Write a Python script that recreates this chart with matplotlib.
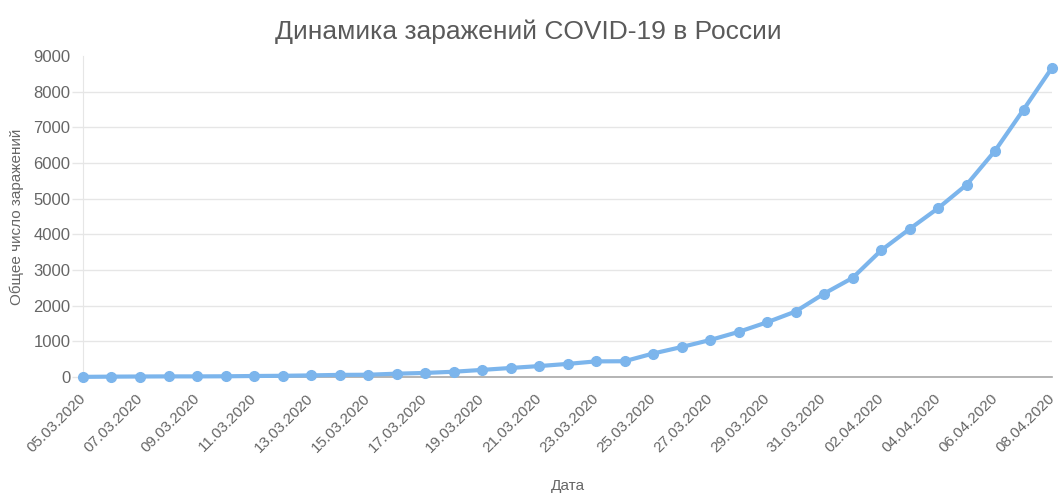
import matplotlib
matplotlib.use("Agg")
import matplotlib.pyplot as plt

plt.rcParams["font.family"] = ["Liberation Sans", "DejaVu Sans"]

# cumulative COVID-19 cases in Russia, 05.03.2020 .. 08.04.2020
dates = [
    "05.03.2020", "06.03.2020", "07.03.2020", "08.03.2020", "09.03.2020",
    "10.03.2020", "11.03.2020", "12.03.2020", "13.03.2020", "14.03.2020",
    "15.03.2020", "16.03.2020", "17.03.2020", "18.03.2020", "19.03.2020",
    "20.03.2020", "21.03.2020", "22.03.2020", "23.03.2020", "24.03.2020",
    "25.03.2020", "26.03.2020", "27.03.2020", "28.03.2020", "29.03.2020",
    "30.03.2020", "31.03.2020", "01.04.2020", "02.04.2020", "03.04.2020",
    "04.04.2020", "05.04.2020", "06.04.2020", "07.04.2020", "08.04.2020",
]
cases = [
    4, 10, 14, 17, 17, 20, 28, 34, 45, 59,
    63, 93, 114, 147, 199, 253, 306, 367, 438, 442,
    658, 840, 1036, 1264, 1534, 1836, 2337, 2777, 3548, 4149,
    4731, 5389, 6343, 7497, 8672,
]
y_ticks = list(range(0, 9001, 1000))

LINE = "#7cb5ec"
TXT = "#666666"
GRID = "#e6e6e6"

fig = plt.figure(figsize=(10.6, 5.0), dpi=100)
ax = fig.add_axes([0.0783, 0.246, 0.9142, 0.642])

x = list(range(len(dates)))
ax.plot(x, cases, "-o", color=LINE, lw=3, ms=7, clip_on=False, zorder=3)

ax.set_xlim(0, len(dates) - 1)
ax.set_ylim(0, 9000)
ax.set_yticks(y_ticks)
ax.set_xticks(x[::2])
ax.set_xticklabels(dates[::2], rotation=45, ha="right", va="center",
                   rotation_mode="anchor")

ax.grid(axis="y", color=GRID, lw=1)
ax.set_axisbelow(True)
for s in ["top", "right"]:
    ax.spines[s].set_visible(False)
ax.spines["left"].set_color(GRID)
ax.spines["bottom"].set_color("#a8a8a8")
ax.spines["bottom"].set_linewidth(1.2)

ax.tick_params(axis="y", length=8, color=GRID, width=1, pad=1,
               labelsize=12, labelcolor=TXT)
ax.tick_params(axis="x", length=0, pad=14, labelsize=11, labelcolor=TXT)
top = ax.yaxis.get_major_ticks()[-1]
top.gridline.set_visible(False)
top.tick1line.set_visible(False)

ax.set_ylabel("Общее число заражений", color=TXT, fontsize=11, labelpad=7)
ax.set_xlabel("Дата", color=TXT, fontsize=11, labelpad=17)
fig.suptitle("Динамика заражений COVID-19 в России", color="#5a5a5a",
             fontsize=19, x=0.498, y=0.96)

fig.savefig("out.png", dpi=100)
